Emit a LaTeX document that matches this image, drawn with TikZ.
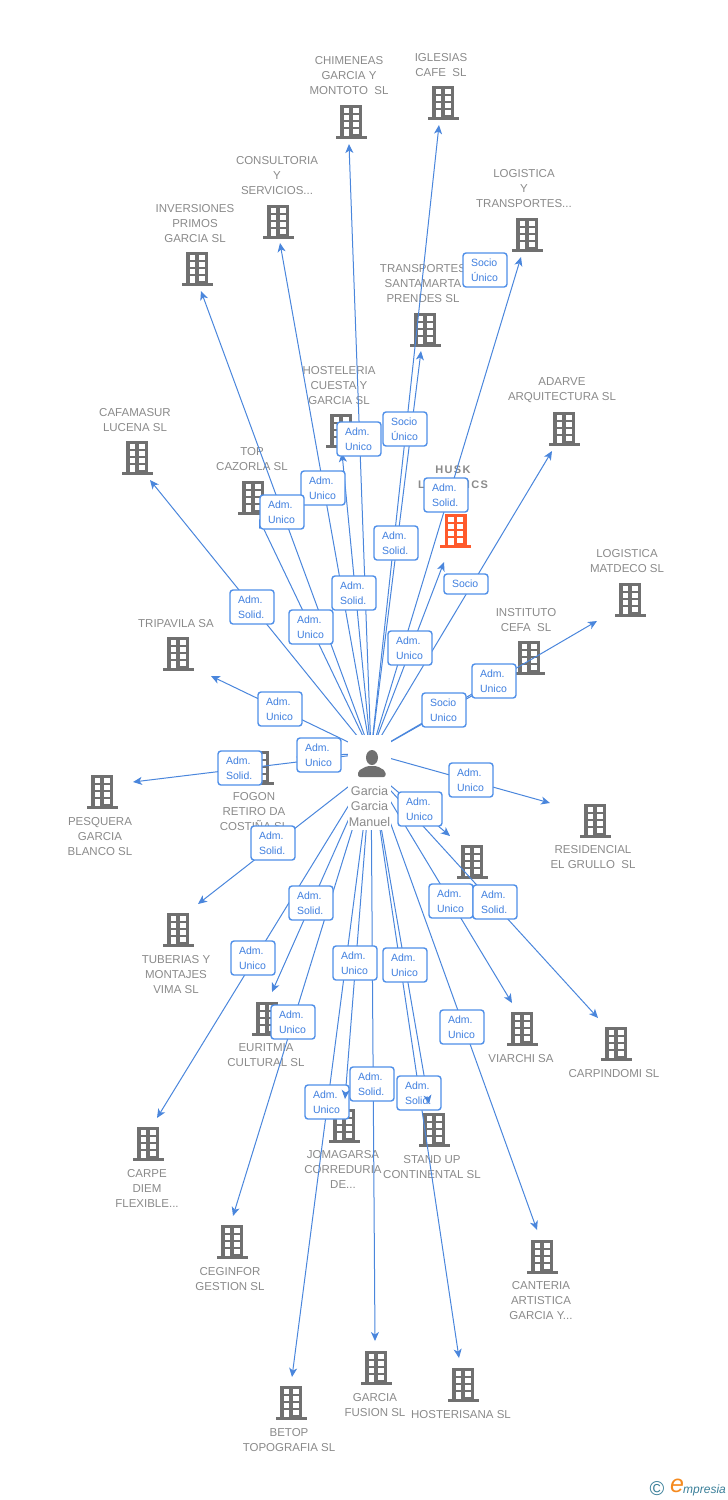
\documentclass[tikz,border=0pt]{standalone}
\usepackage{fontspec}
\setmainfont{Liberation Sans}
\newfontfamily\huskfont[LetterSpace=12]{Liberation Sans}
\usetikzlibrary{arrows.meta,calc}
\definecolor{linkblue}{HTML}{4A86DC}
\definecolor{boxblue}{HTML}{4F8FE8}
\definecolor{textblue}{HTML}{3F7FDF}
\definecolor{towergray}{HTML}{707070}
\definecolor{labelgray}{HTML}{8A8A8A}
\definecolor{huskorange}{HTML}{FF5A2C}
\definecolor{logoteal}{HTML}{3A7F99}
\definecolor{logoorange}{HTML}{F58A1F}
\tikzset{
	lbl/.style={text=labelgray,align=center,inner sep=0pt,yshift=-0.7pt,font=\fontsize{11.5}{15}\selectfont},
	link/.style={draw=linkblue,line width=1pt,-{Stealth[length=9pt,width=8pt,inset=2.5pt]}},
	rolebox/.style={draw=boxblue,line width=1.4pt,fill=white,rounded corners=3pt,minimum width=44pt,
			text width=28pt,inner xsep=8pt,inner ysep=0pt,align=left,text=textblue,
			font=\fontsize{10.5}{15}\selectfont},
	pics/tower/.style={code={
				\fill[#1] (-11,-16) rectangle (11,17);
				\fill[#1] (-15.5,15) rectangle (15.5,17.5);
				\foreach \r in {-13,-6,1}{
						\fill[white] (-7.5,\r) rectangle (-1.7,\r+4.8);
						\fill[white] (1.8,\r) rectangle (7.6,\r+4.8);
					}
				\fill[white] (-7.5,8) rectangle (-1.7,15);
				\fill[white] (1.8,8) rectangle (7.6,12.8);
			}}
}
\newcommand{\admU}{Adm.\\Unico}
\newcommand{\admS}{Adm.\\Solid.}
\newcommand{\socU}{Socio\\Unico}
\newcommand{\socA}{Socio\\Único}
% name/icon x/icon y/label x/label y/label/hub side/tip x/tip y/box x/box y/box height/role
\newcommand{\companies}{
	chimeneas/351/121/349/75/{CHIMENEAS\\GARCIA Y\\MONTOTO\ \ SL}/top/349/144/359/439/34/\admU,
	iglesias/443/102/441/64.5/{IGLESIAS\\CAFE\ \ SL}/top/439/125/405/429/34/\socA,
	consultoria/278/221/277/175/{CONSULTORIA\\Y\\SERVICIOS...}/top/280/243/323/488/34/\admU,
	logtrans/527/234/524/188/{LOGISTICA\\Y\\TRANSPORTES...}/top/521/257/446/495/34/\admS,
	inversiones/197/268/195/223/{INVERSIONES\\PRIMOS\\GARCIA SL}/top/201/291/282/512/34/\admU,
	santamarta/425/329/423/283/{TRANSPORTES\\SANTAMARTA\\PRENDES SL}/top/421/351/396/543/34/\admS,
	adarve/564/428/562/389.5/{ADARVE\\ARQUITECTURA SL}/top/552/451/466/584/20/Socio,
	hosteleria/341/430/339/385/{HOSTELERIA\\CUESTA Y\\GARCIA SL}/top/342/453/354/593/34/\admS,
	cafamasur/137/457/135/419.5/{CAFAMASUR\\LUCENA SL}/top/150/480/252/607/34/\admS,
	cazorla/253/497/252/458.5/{TOP\\CAZORLA SL}/top/259/519/311/627/34/\admU,
	matdeco/630/599/627/560.5/{LOGISTICA\\MATDECO SL}/top/597/621/494/681/34/\admU,
	tripavila/178/653/176/623/{TRIPAVILA SA}/top/211/676/280/709/34/\admU,
	instituto/529/657/526/619.5/{INSTITUTO\\CEFA\ \ SL}/top/514/672/444/710/34/\socU,
	fogon/258/767/254/811/{FOGON\\RETIRO DA\\COSTIÑA SL}/top/296/757/319/755/34/\admU,
	pesquera/102/791/100/836/{PESQUERA\\GARCIA\\BLANCO SL}/top/133/782/240/768/34/\admS,
	residencial/595/820/593/856.5/{RESIDENCIAL\\EL GRULLO\ \ SL}/top/550/803/471/780/34/\admU,
	covered/472/861/472/905//bot/450/836/420/809/34/\admU,
	tuberias/178/929/176/974/{TUBERIAS Y\\MONTAJES\\VIMA SL}/bot/198/904/273/843/34/\admS,
	euritmia/267/1018/266/1054.5/{EURITMIA\\CULTURAL SL}/bot/272/992/311/903/34/\admS,
	viarchi/522/1028/521/1058/{VIARCHI SA}/bot/512/1003/451/901/34/\admU,
	carpindomi/616/1043/614/1073/{CARPINDOMI SL}/bot/598/1018/495/902/34/\admS,
	jomagarsa/344/1125/343/1169/{JOMAGARSA\\CORREDURIA\\DE...}/bot/345/1099/355/963/34/\admU,
	standup/434/1129/432/1166.5/{STAND UP\\CONTINENTAL SL}/bot/429/1104/405/965/34/\admU,
	carpe/148/1143/147/1188/{CARPE\\DIEM\\FLEXIBLE...}/bot/157/1118/253/958/34/\admU,
	ceginfor/232/1241/230/1278.5/{CEGINFOR\\GESTION SL}/bot/233/1216/293/1022/34/\admU,
	canteria/542/1256/541/1300/{CANTERIA\\ARTISTICA\\GARCIA Y...}/bot/537/1230/462/1027/34/\admU,
	fusion/376/1367/375/1404.5/{GARCIA\\FUSION SL}/bot/375/1341/372/1084/34/\admS,
	hosterisana/463/1384/461/1414/{HOSTERISANA SL}/bot/459/1358/419/1093/34/\admS,
	betop/291/1402/289/1439.5/{BETOP\\TOPOGRAFIA SL}/bot/292/1377/327/1102/34/\admU%
}
\begin{document}
\begin{tikzpicture}[x=1pt,y=-1pt]
	\useasboundingbox (0,0) rectangle (728,1500);
	\coordinate (hub-top) at (371,753);
	\coordinate (hub-bot) at (371,769);
	% companies
	\foreach \id/\ix/\iy/\lx/\ly/\txt/\side/\tx/\ty/\bx/\by/\bh/\role in \companies {
			\pic at (\ix,\iy) {tower=towergray};
			\node[lbl] (\id) at (\lx,\ly) {\txt};
			\coordinate (\id-tip) at (\tx,\ty);
		}
	\pic at (455.5,530) {tower=huskorange};
	\node[lbl,font=\huskfont\bfseries\fontsize{11}{15}\selectfont] (husk) at (453,476.5) {HUSK\\LOGISTICS};
	\coordinate (husk-tip) at (444,562);
	% links
	\foreach \id/\ix/\iy/\lx/\ly/\txt/\side/\tx/\ty/\bx/\by/\bh/\role in \companies {
			\draw[link] (hub-\side) -- (\id-tip);
		}
	\draw[link] (hub-top) -- (husk-tip);
	% role boxes
	\foreach \id/\ix/\iy/\lx/\ly/\txt/\side/\tx/\ty/\bx/\by/\bh/\role in \companies {
			\node[rolebox,minimum height=\bh pt] (\id-box) at (\bx,\by) {\role};
		}
	\node[rolebox,minimum height=34pt] (husk-box) at (410,648) {\admU};
	\node[rolebox,minimum height=34pt] (spare-box) at (485,270) {\socA};
	% tips that lie over a box
	\draw[link] ($(jomagarsa-tip)!2pt!(hub-bot)$) -- (jomagarsa-tip);
	\draw[link] ($(standup-tip)!2pt!(hub-bot)$) -- (standup-tip);
	% person
	\node[fill=white,minimum width=43pt,minimum height=95pt,inner sep=0pt] (garcia) at (369.5,782.5) {};
	\fill[towergray] (372,757.5) ellipse (6 and 7.5);
	\fill[towergray,rounded corners=2pt] (358,777) -- (358,771) -- (367,766) -- (377,766) -- (385.5,771) -- (385.5,777) -- cycle;
	\node[lbl,font=\fontsize{12.6}{15.3}\selectfont] (garcianame) at (369.5,805.5) {Garcia\\Garcia\\Manuel};
	% logo
	\node[text=logoteal,inner sep=0pt,font=\fontsize{20}{20}\selectfont] (copyr) at (657,1488.5) {©};
	\node[text=logoorange,inner sep=0pt,font=\itshape\fontsize{25}{25}\selectfont] (logoe) at (677,1486) {e};
	\node[text=logoteal,inner sep=0pt,anchor=west,font=\itshape\fontsize{12}{12}\selectfont] (logotext) at (683,1490) {mpresia};
\end{tikzpicture}
\end{document}
